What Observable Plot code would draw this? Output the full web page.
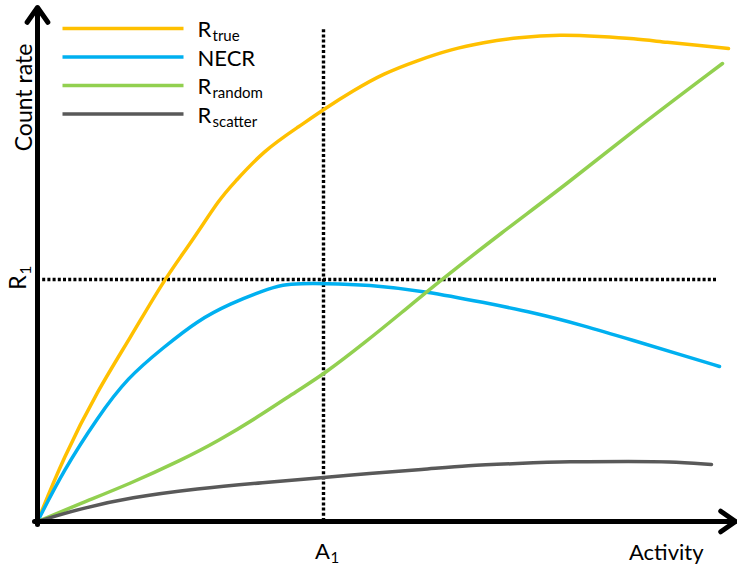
<!DOCTYPE html>
<html><head><meta charset="utf-8">
<script src="https://cdn.jsdelivr.net/npm/d3@7"></script>
<script src="https://cdn.jsdelivr.net/npm/@observablehq/plot@0.6"></script>
<style>html,body{margin:0;padding:0;background:#fff}</style>
</head><body><div id="chart"></div>
<script>
// ---- data ----
const seriesKeys = ["true", "NECR", "random", "scatter"];
const legendMain = ["R", "NECR", "R", "R"];
const legendSub = ["true", "", "random", "scatter"];
const seriesColors = ["#FFC000", "#00B0F0", "#92D050", "#595959"];

const rTrueX = [0, 26, 60, 93, 126, 153, 183, 196, 226, 263, 286, 316, 346, 380, 413, 446, 480, 523, 563, 596, 630, 663, 691];
const rTrueY = [0, 64, 131, 184, 241, 278, 324, 338, 371, 396, 412, 431, 448, 461, 472, 479, 484, 487, 485, 483, 479, 476, 473];

const necrX = [0, 26, 60, 90, 126, 160, 193, 226, 246, 263, 286, 330, 390, 446, 496, 546, 596, 646, 682];
const necrY = [0, 51, 104, 144, 174, 201, 218, 231, 237, 238, 238, 237, 230, 219, 209, 196, 181, 166, 155];

const rRandomX = [0, 43, 93, 143, 180, 226, 260, 286, 330, 363, 403, 463, 530, 596, 685];
const rRandomY = [0, 18, 38, 61, 80, 108, 131, 147, 181, 208, 241, 288, 338, 391, 458];

const rScatterX = [0, 43, 93, 160, 226, 286, 330, 386, 430, 480, 530, 596, 630, 674];
const rScatterY = [0, 13, 24, 33, 39, 44, 48, 52, 56, 58, 60, 60, 60, 57];

const A1 = 286;   // marked activity
const R1 = 242;   // marked count rate
const xLabel = "Activity";
const yLabel = "Count rate";

// ---- build table ----
const seriesXs = [rTrueX, necrX, rRandomX, rScatterX];
const seriesYs = [rTrueY, necrY, rRandomY, rScatterY];
const rows = [];
seriesKeys.forEach((k, i) => seriesXs[i].forEach((x, j) => rows.push({series: k, x, y: seriesYs[i][j]})));

const W = 737, H = 564;
const xDomain = [0, 700], yDomain = [0, 520];
const FONT = "Lato, 'Open Sans', sans-serif";

// legend layout (in data units via inverse of scales)
const xs = d3.scaleLinear().domain(xDomain).range([37, 737]);
const ys = d3.scaleLinear().domain(yDomain).range([521, 1]);
const legendRows = legendMain.map((m, i) => ({
  i, main: m, sub: legendSub[i], color: seriesColors[i],
  x1: xs.invert(62), x2: xs.invert(183), y: ys.invert(28 + i * 28.5),
  base: ys.invert(28 + i * 28.5 + (legendSub[i] ? 8.5 : 9)),
  subBase: ys.invert(28 + i * 28.5 + 12.5),
  tx: xs.invert(197)
}));

const chart = Plot.plot({
  width: W, height: H,
  margin: 0,
  style: {fontFamily: FONT, background: "#fff", color: "#000"},
  x: {domain: xDomain, range: [37, 737], axis: null},
  y: {domain: yDomain, range: [521, 1], axis: null},
  color: {domain: seriesKeys, range: seriesColors},
  marks: [
    // dotted guides
    Plot.ruleX([A1], {x: d => d, y1: 0, y2: ys.invert(29), stroke: "#000", strokeWidth: 3.4, strokeDasharray: "3,2.2"}),
    Plot.ruleY([R1], {y: d => d, x1: 0, x2: xs.invert(716), stroke: "#000", strokeWidth: 3.4, strokeDasharray: "3,2.2"}),
    // curves
    Plot.line(rows, {x: "x", y: "y", z: "series", stroke: "series", strokeWidth: 3.5, curve: "basis"}),
    // axes with arrow heads
    Plot.arrow([0], {x1: xs.invert(34), y1: 0, x2: xs.invert(735), y2: 0, stroke: "#000", strokeWidth: 5, headLength: 5.4, headAngle: 70}),
    Plot.arrow([0], {x1: 0, y1: ys.invert(524), x2: 0, y2: ys.invert(7), stroke: "#000", strokeWidth: 5, headLength: 5.4, headAngle: 70}),
    // legend
    Plot.link(legendRows, {x1: "x1", x2: "x2", y1: "y", y2: "y", stroke: "color", strokeWidth: 3.5}),
    Plot.text(legendRows, {x: "tx", y: "base", text: "main", textAnchor: "start", lineAnchor: "bottom", fontSize: 22, fill: "#000"}),
    Plot.text(legendRows.filter(d => d.sub), {x: "tx", y: "subBase", text: "sub", dx: 15, textAnchor: "start", lineAnchor: "bottom", fontSize: 15, fill: "#000"}),
    // axis labels
    Plot.text([yLabel], {text: d => d, frameAnchor: "top-left", dx: 31, dy: 97, rotate: -90, textAnchor: "middle", lineAnchor: "bottom", fontSize: 23, fill: "#000"}),
    Plot.text([xLabel], {text: d => d, frameAnchor: "bottom-right", dx: -34, dy: -5, textAnchor: "end", lineAnchor: "bottom", fontSize: 22, fill: "#000"}),
    // A1 / R1 markers
    Plot.text([A1], {x: d => d, text: () => "A", frameAnchor: "bottom", dx: -1, dy: -6, textAnchor: "middle", lineAnchor: "bottom", fontSize: 22, fill: "#000"}),
    Plot.text([A1], {x: d => d, text: () => "1", frameAnchor: "bottom", dx: 7, dy: -2, textAnchor: "start", lineAnchor: "bottom", fontSize: 15, fill: "#000"}),
    Plot.text([R1], {y: d => d, text: () => "R", frameAnchor: "left", dx: 25, dy: 3, rotate: -90, textAnchor: "middle", lineAnchor: "bottom", fontSize: 23, fill: "#000"}),
    Plot.text([R1], {y: d => d, text: () => "1", frameAnchor: "left", dx: 30, dy: -5, rotate: -90, textAnchor: "start", lineAnchor: "bottom", fontSize: 15, fill: "#000"})
  ]
});
document.getElementById("chart").appendChild(chart);
</script>
</body></html>
